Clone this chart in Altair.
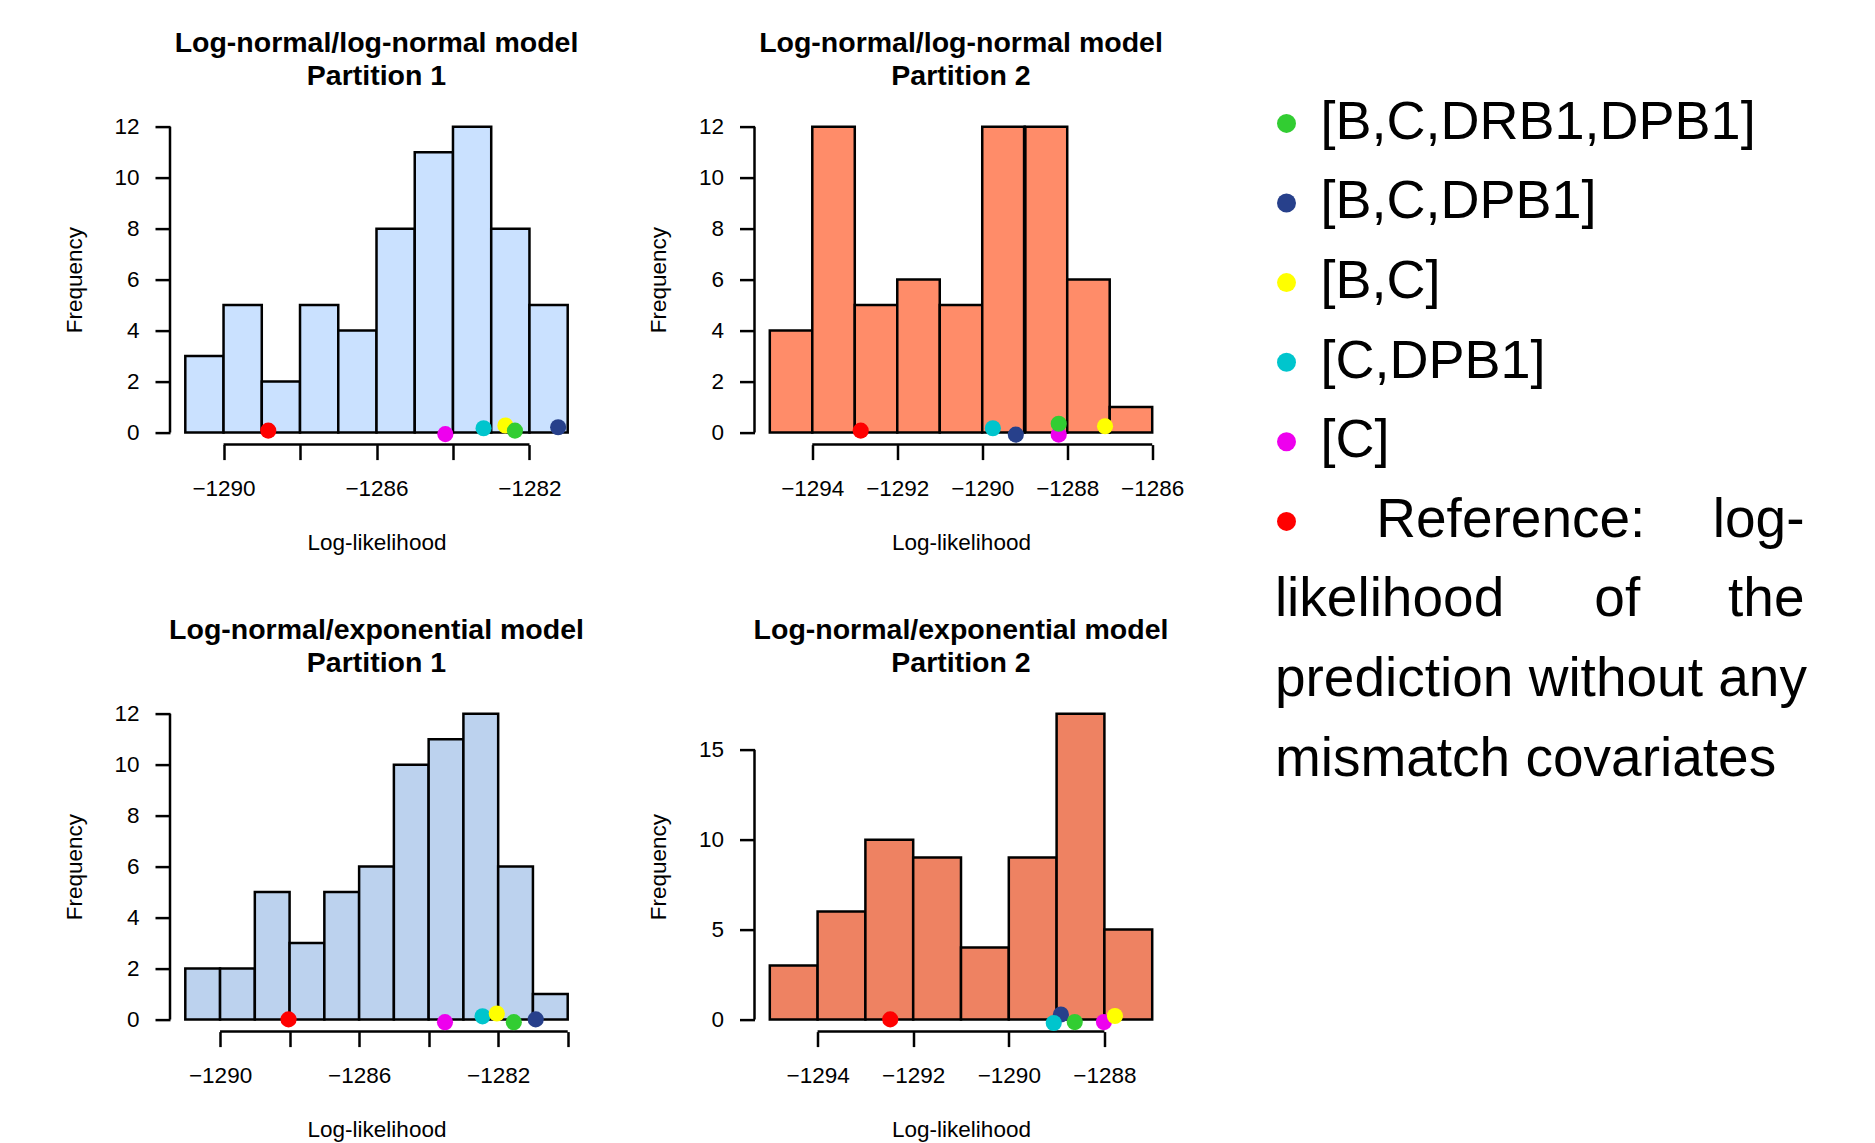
import json
import altair as alt
import pandas as pd

# ---------------- data ----------------
series_names = ["[B,C,DRB1,DPB1]", "[B,C,DPB1]", "[B,C]", "[C,DPB1]", "[C]", "Reference"]
series_colors = ["#32CD32", "#27408B", "#FFFF00", "#00C5CD", "#EE00EE", "#FF0000"]
draw_rank = [5, 1, 4, 2, 3, 0]

p1_title = ["Log-normal/log-normal model", "Partition 1"]
p1_edges = [-1291, -1290, -1289, -1288, -1287, -1286, -1285, -1284, -1283, -1282, -1281]
p1_counts = [3, 5, 2, 5, 4, 8, 11, 12, 8, 5]
p1_xticks = [-1290, -1288, -1286, -1284, -1282]
p1_xlabels = [-1290, -1286, -1282]
p1_yticks = [0, 2, 4, 6, 8, 10, 12]
p1_pts_x = [-1282.38, -1281.25, -1282.63, -1283.2, -1284.2, -1288.83]
p1_pts_y = [0.07, 0.2, 0.27, 0.16, -0.07, 0.07]

p2_title = ["Log-normal/log-normal model", "Partition 2"]
p2_edges = [-1295, -1294, -1293, -1292, -1291, -1290, -1289, -1288, -1287, -1286]
p2_counts = [4, 12, 5, 6, 5, 12, 12, 6, 1]
p2_xticks = [-1294, -1292, -1290, -1288, -1286]
p2_xlabels = [-1294, -1292, -1290, -1288, -1286]
p2_yticks = [0, 2, 4, 6, 8, 10, 12]
p2_pts_x = [-1288.2, -1289.21, -1287.11, -1289.75, -1288.2, -1292.86]
p2_pts_y = [0.34, -0.09, 0.24, 0.16, -0.09, 0.07]
p2_thick_x = [-1289]
p2_thick_top = [12]

p3_title = ["Log-normal/exponential model", "Partition 1"]
p3_edges = [-1291, -1290, -1289, -1288, -1287, -1286, -1285, -1284, -1283, -1282, -1281, -1280]
p3_counts = [2, 2, 5, 3, 5, 6, 10, 11, 12, 6, 1]
p3_xticks = [-1290, -1288, -1286, -1284, -1282, -1280]
p3_xlabels = [-1290, -1286, -1282]
p3_yticks = [0, 2, 4, 6, 8, 10, 12]
p3_pts_x = [-1281.55, -1280.92, -1282.04, -1282.45, -1283.53, -1288.03]
p3_pts_y = [-0.11, 0.0, 0.23, 0.12, -0.11, 0.0]

p4_title = ["Log-normal/exponential model", "Partition 2"]
p4_edges = [-1295, -1294, -1293, -1292, -1291, -1290, -1289, -1288, -1287]
p4_counts = [3, 6, 10, 9, 4, 9, 17, 5]
p4_xticks = [-1294, -1292, -1290, -1288]
p4_xlabels = [-1294, -1292, -1290, -1288]
p4_yticks = [0, 5, 10, 15]
p4_pts_x = [-1288.62, -1288.91, -1287.78, -1289.06, -1288.01, -1292.48]
p4_pts_y = [-0.15, 0.27, 0.19, -0.2, -0.15, 0.0]

note_lines = [["Reference:", "log-"], ["likelihood", "of", "the"],
              ["prediction without any"], ["mismatch covariates"]]

# ---------------- style / layout ----------------
W, H = 413, 330
FONT = "Liberation Sans"
LW = 2.5
TICK = 15
color_scale = alt.Scale(domain=series_names, range=series_colors)


def panel(title, edges, counts, fill, xticks, xlabels, yticks, px, py, extra=None):
    lo, hi = edges[0], edges[-1]
    xpad = 0.04 * (hi - lo)
    ymax = max(counts)
    xs = alt.Scale(domain=[lo - xpad, hi + xpad], nice=False, zero=False)
    ys = alt.Scale(domain=[-0.04 * ymax, 1.04 * ymax], nice=False, zero=False)
    xax = alt.Axis(values=xticks, format="d",
                   labelExpr="indexof(%s, datum.value) >= 0 ? datum.label : ''" % json.dumps(xlabels),
                   domain=False, grid=False, tickSize=TICK, tickWidth=LW, tickColor="black",
                   labelColor="black", labelFont=FONT, labelFontSize=22.5, labelPadding=18,
                   labelAngle=0, labelOverlap=False, labelFlush=False,
                   title="Log-likelihood", titleFont=FONT, titleFontSize=22.5, titleFontWeight="normal",
                   titleColor="black", titleX=W / 2, titleY=97.5, titleAlign="center",
                   titleBaseline="middle")
    yax = alt.Axis(values=yticks, format="d", domain=False, grid=False, tickSize=TICK,
                   tickWidth=LW, tickColor="black", labelColor="black", labelFont=FONT,
                   labelFontSize=22.5, labelPadding=16, labelOverlap=False, labelFlush=False,
                   title="Frequency", titleFont=FONT, titleFontSize=22.5, titleFontWeight="normal",
                   titleColor="black", titleAngle=270, titleX=-96, titleY=H / 2,
                   titleAlign="center", titleBaseline="middle")

    bars_df = pd.DataFrame({"lo": edges[:-1], "hi": edges[1:], "count": counts,
                            "base": [0] * len(counts)})
    bars = alt.Chart(bars_df).mark_rect(fill=fill, stroke="black", strokeWidth=LW).encode(
        x=alt.X("lo:Q", scale=xs, axis=xax), x2="hi:Q",
        y=alt.Y("count:Q", scale=ys, axis=yax), y2="base:Q")

    xline = alt.Chart(pd.DataFrame({"a": [xticks[0]], "b": [xticks[-1]]})).mark_rule(
        color="black", strokeWidth=LW).encode(
        x=alt.X("a:Q", scale=xs, axis=xax), x2="b:Q", y=alt.value(H))
    yline = alt.Chart(pd.DataFrame({"a": [yticks[0]], "b": [yticks[-1]]})).mark_rule(
        color="black", strokeWidth=LW).encode(
        y=alt.Y("a:Q", scale=ys, axis=yax), y2="b:Q", x=alt.value(0))

    pts = pd.DataFrame({"series": series_names, "x": px, "y": py, "rank": draw_rank})
    dots = alt.Chart(pts).mark_circle(size=260, opacity=1).encode(
        x=alt.X("x:Q", scale=xs, axis=xax), y=alt.Y("y:Q", scale=ys, axis=yax),
        color=alt.Color("series:N", scale=color_scale, legend=None),
        order=alt.Order("rank:Q"))

    titles = []
    for line, ty in zip(title, [-62.4, -29.9]):
        titles.append(alt.Chart(pd.DataFrame({"t": [line]})).mark_text(
            font=FONT, fontSize=28.5, fontWeight="bold", color="black", align="center",
            baseline="alphabetic").encode(x=alt.value(W / 2), y=alt.value(ty), text="t:N"))

    layers = [bars, xline, yline]
    if extra is not None:
        layers += extra(xs, ys, xax, yax)
    layers.append(dots)
    layers += titles
    return alt.layer(*layers).properties(width=W, height=H)


def p2_extra(xs, ys, xax, yax):
    thick = alt.Chart(pd.DataFrame({"x": p2_thick_x, "top": p2_thick_top, "base": [0]})).mark_rule(
        color="black", strokeWidth=3.8).encode(
        x=alt.X("x:Q", scale=xs, axis=xax), y=alt.Y("base:Q", scale=ys, axis=yax), y2="top:Q")
    out = [thick]
    # legend (to the right of this panel)
    step = 79.6
    for i, name in enumerate(series_names):
        out.append(alt.Chart(pd.DataFrame({"series": [name]})).mark_circle(size=360, opacity=1).encode(
            x=alt.value(532), y=alt.value(8.8 + step * i),
            color=alt.Color("series:N", scale=color_scale, legend=None)))
        if i < 5:
            out.append(alt.Chart(pd.DataFrame({"t": [name]})).mark_text(
                align="left", baseline="alphabetic", font=FONT, fontSize=54, color="black").encode(
                x=alt.value(566), y=alt.value(24.1 + step * i), text="t:N"))
    word_pos = [[(621.8, "left"), (1050, "right")],
                [(520.4, "left"), (862.8, "center"), (1050, "right")],
                [(520.4, "left")],
                [(520.4, "left")]]
    for li, words in enumerate(note_lines):
        for w, (wx, al) in zip(words, word_pos[li]):
            out.append(alt.Chart(pd.DataFrame({"t": [w]})).mark_text(
                align=al, baseline="alphabetic", font=FONT, fontSize=55, color="black").encode(
                x=alt.value(wx), y=alt.value(24.1 + step * (5 + li)), text="t:N"))
    return out


c1 = panel(p1_title, p1_edges, p1_counts, "#CAE1FF", p1_xticks, p1_xlabels, p1_yticks, p1_pts_x, p1_pts_y)
c2 = panel(p2_title, p2_edges, p2_counts, "#FF8C69", p2_xticks, p2_xlabels, p2_yticks, p2_pts_x, p2_pts_y,
           extra=p2_extra)
c3 = panel(p3_title, p3_edges, p3_counts, "#BCD2EE", p3_xticks, p3_xlabels, p3_yticks, p3_pts_x, p3_pts_y)
c4 = panel(p4_title, p4_edges, p4_counts, "#EE8262", p4_xticks, p4_xlabels, p4_yticks, p4_pts_x, p4_pts_y)

PL, PT = 170, 114.6
chart = alt.concat(c1, c2, c3, c4, columns=2,
                   spacing={"row": 257, "column": 171.5}, bounds="flush").properties(
    padding={"left": PL, "top": PT, "right": 1875 - PL, "bottom": 1143 - PT},
    autosize=alt.AutoSizeParams(type="none"),
    background="white",
).configure_view(stroke=None)

chart.save("out.html", embed_options={"renderer": "svg", "actions": False})
